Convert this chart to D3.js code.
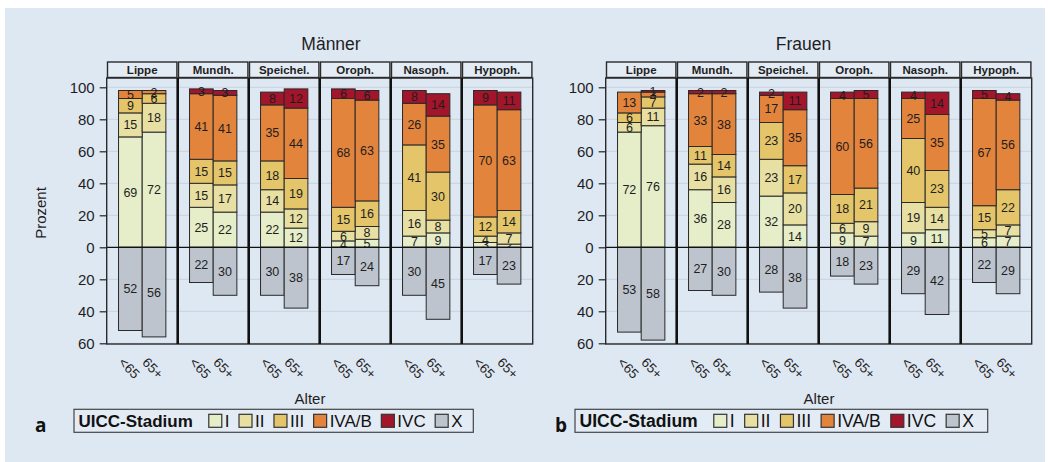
<!DOCTYPE html>
<html>
<head>
<meta charset="utf-8">
<script src="https://cdn.jsdelivr.net/npm/d3@7"></script>
<style>
  body { margin: 0; background: #ffffff; }
  svg { display: block; font-family: "Liberation Sans", Arial, sans-serif; }
</style>
</head>
<body>
<svg id="chart" width="1048" height="462"></svg>
<script>
// Tumour sites (facets), age groups (bars) and UICC stages (stack segments)
const sites = ["Lippe", "Mundh.", "Speichel.", "Oroph.", "Nasoph.", "Hypoph."];
const ages = ["<65", "65+"];
const stages = ["I", "II", "III", "IVA/B", "IVC"];
const stageX = "X";
const tickValues = [-60, -40, -20, 0, 20, 40, 60, 80, 100];

// Männer: percentages per site and age group (<65, 65+ for each site in order)
const maennerI    = [69, 72, 25, 22, 22, 12,  4,  5,  7,  9,  3,  2];
const maennerII   = [15, 18, 15, 17, 14, 12,  6,  8, 16,  8,  4,  7];
const maennerIII  = [ 9,  6, 15, 15, 18, 19, 15, 16, 41, 30, 12, 14];
const maennerIVAB = [ 5,  2, 41, 41, 35, 44, 68, 63, 26, 35, 70, 63];
const maennerIVC  = [ 0,  0,  3,  3,  8, 12,  6,  6,  8, 14,  9, 11];
const maennerX    = [52, 56, 22, 30, 30, 38, 17, 24, 30, 45, 17, 23];

// Frauen
const frauenI    = [72, 76, 36, 28, 32, 14,  9,  7,  9, 11,  6,  7];
const frauenII   = [ 6, 11, 16, 16, 23, 20,  6,  9, 19, 14,  5,  7];
const frauenIII  = [ 6,  7, 11, 14, 23, 17, 18, 21, 40, 23, 15, 22];
const frauenIVAB = [13,  3, 33, 38, 17, 35, 60, 56, 25, 35, 67, 56];
const frauenIVC  = [ 0,  1,  2,  2,  2, 11,  4,  5,  4, 14,  5,  4];
const frauenX    = [53, 58, 27, 30, 28, 38, 18, 23, 29, 42, 22, 29];

// Colours
const stageColors = ["#e5eec8", "#e8e0a3", "#e4c56a", "#e3843c", "#a3152b"];
const colorX = "#bdc4cd";
const bg = "#dee8f3";
const ink = "#1e1e1e";

const svg = d3.select("#chart");

// page background
svg.append("rect").attr("x", 5).attr("y", 8).attr("width", 1040).attr("height", 454).attr("fill", bg);

const layout = {
  plotTop: 78, plotBottom: 344, stripTop: 62, stripH: 15.5,
  facetStep: 71
};

const y = d3.scaleLinear().domain([-60, 100]).range([343.3, 87.3]);

const panels = [
  { title: "Männer", tag: "a", left: 106.7, titleX: 331, alterX: 310, yLabel: true,
    series: [maennerI, maennerII, maennerIII, maennerIVAB, maennerIVC], neg: maennerX,
    legend: { x: 74, y: 409.3, w: 399.3, h: 23, font: 17, gap: 9.5, tagX: 35 } },
  { title: "Frauen", tag: "b", left: 605.7, titleX: 803.5, alterX: 819, yLabel: false,
    series: [frauenI, frauenII, frauenIII, frauenIVAB, frauenIVC], neg: frauenX,
    legend: { x: 575, y: 409.3, w: 412.7, h: 23, font: 17.6, gap: 10, tagX: 555 } }
];

panels.forEach(p => {
  const g = svg.append("g");
  const width = layout.facetStep * sites.length;
  const xSite = d3.scaleBand().domain(sites).range([p.left, p.left + width]);
  const xAge = d3.scaleBand().domain(ages).range([0, xSite.bandwidth()]).paddingInner(0).paddingOuter(0.5);

  // rows for stacking
  const rows = [];
  sites.forEach((s, i) => ages.forEach((a, j) => {
    const k = i * 2 + j;
    const r = { site: s, age: a, X: p.neg[k] };
    stages.forEach((st, si) => r[st] = p.series[si][k]);
    rows.push(r);
  }));
  const stacked = d3.stack().keys(stages)(rows);

  // gridlines
  g.append("g").selectAll("line").data(tickValues.filter(d => d !== 0)).join("line")
    .attr("x1", p.left).attr("x2", p.left + width)
    .attr("y1", d => y(d)).attr("y2", d => y(d))
    .attr("stroke", "#c9d3df").attr("stroke-width", 1);

  const bx = d => xSite(d.data ? d.data.site : d.site) + xAge(d.data ? d.data.age : d.age);

  // positive stacks
  stacked.forEach((layer, li) => {
    const lg = g.append("g");
    const segs = layer.filter(d => d[1] - d[0] > 0);
    lg.selectAll("rect").data(segs).join("rect")
      .attr("x", bx).attr("width", xAge.bandwidth())
      .attr("y", d => y(d[1])).attr("height", d => y(d[0]) - y(d[1]))
      .attr("fill", stageColors[li]).attr("stroke", "#2a2a2a").attr("stroke-width", 1);
    lg.selectAll("text").data(segs).join("text")
      .attr("x", d => bx(d) + xAge.bandwidth() / 2)
      .attr("y", d => y((d[0] + d[1]) / 2))
      .attr("dy", "0.36em").attr("text-anchor", "middle")
      .attr("font-size", 12.5).attr("fill", ink)
      .text(d => d[1] - d[0]);
  });

  // unknown stage (X) below zero
  const ng = g.append("g");
  ng.selectAll("rect").data(rows).join("rect")
    .attr("x", bx).attr("width", xAge.bandwidth())
    .attr("y", y(0)).attr("height", d => y(-d.X) - y(0))
    .attr("fill", colorX).attr("stroke", "#2a2a2a").attr("stroke-width", 1);
  ng.selectAll("text").data(rows).join("text")
    .attr("x", d => bx(d) + xAge.bandwidth() / 2)
    .attr("y", d => y(-d.X / 2))
    .attr("dy", "0.36em").attr("text-anchor", "middle")
    .attr("font-size", 12.5).attr("fill", ink)
    .text(d => d.X);

  // zero line
  g.append("line").attr("x1", p.left).attr("x2", p.left + width)
    .attr("y1", y(0)).attr("y2", y(0)).attr("stroke", "#111").attr("stroke-width", 1.3);

  // facet frames
  g.append("rect").attr("x", p.left).attr("y", layout.plotTop)
    .attr("width", width).attr("height", layout.plotBottom - layout.plotTop)
    .attr("fill", "none").attr("stroke", "#2a2a2a").attr("stroke-width", 1.4);
  g.append("g").selectAll("line").data(sites.slice(1)).join("line")
    .attr("x1", d => xSite(d)).attr("x2", d => xSite(d))
    .attr("y1", layout.plotTop).attr("y2", layout.plotBottom)
    .attr("stroke", "#111").attr("stroke-width", 2.6);

  // strips
  const sg = g.append("g");
  sg.selectAll("rect").data(sites).join("rect")
    .attr("x", d => xSite(d) + 0.8).attr("width", xSite.bandwidth() - 1.6)
    .attr("y", layout.stripTop).attr("height", layout.stripH)
    .attr("fill", "#e3ebf4").attr("stroke", "#2a2a2a").attr("stroke-width", 1.4);
  sg.selectAll("text").data(sites).join("text")
    .attr("x", d => xSite(d) + xSite.bandwidth() / 2)
    .attr("y", layout.stripTop + layout.stripH / 2).attr("dy", "0.36em")
    .attr("text-anchor", "middle").attr("font-size", 11.5).attr("font-weight", "bold")
    .attr("fill", ink).text(d => d);

  // y axis
  const ax = g.append("g").attr("transform", `translate(${p.left},0)`)
    .call(d3.axisLeft(y).tickValues(tickValues).tickFormat(d => Math.abs(d)).tickSize(7).tickPadding(5));
  ax.select(".domain").remove();
  ax.selectAll(".tick line").attr("stroke", "#222").attr("stroke-width", 1.2);
  ax.selectAll(".tick text").attr("font-size", 15).attr("fill", ink)
    .attr("font-family", "Liberation Sans, Arial, sans-serif");

  // x tick labels (age groups)
  const xl = g.append("g");
  xl.selectAll("text").data(rows).join("text")
    .attr("transform", d => `translate(${bx(d) + xAge.bandwidth() / 2 - 1},368) rotate(45)`)
    .attr("text-anchor", "middle").attr("dy", "0.36em")
    .attr("font-size", 13.5).attr("fill", ink).text(d => d.age);

  // titles
  g.append("text").attr("x", p.titleX).attr("y", 50).attr("text-anchor", "middle")
    .attr("font-size", 17.5).attr("fill", ink).text(p.title);
  g.append("text").attr("x", p.alterX).attr("y", 404).attr("text-anchor", "middle")
    .attr("font-size", 15).attr("fill", ink).text("Alter");
  if (p.yLabel) {
    g.append("text").attr("transform", "translate(46,213) rotate(-90)")
      .attr("text-anchor", "middle").attr("font-size", 15).attr("fill", ink).text("Prozent");
  }

  // panel tag
  g.append("text").attr("x", p.legend.tagX).attr("y", 432)
    .attr("font-family", "'Open Sans', 'DejaVu Sans', sans-serif")
    .attr("font-size", 19).attr("font-weight", "bold").attr("fill", "#111").text(p.tag);

  // legend
  const L = p.legend;
  const lg = g.append("g");
  lg.append("rect").attr("x", L.x).attr("y", L.y).attr("width", L.w).attr("height", L.h)
    .attr("fill", "#e3ebf4").attr("stroke", "#444").attr("stroke-width", 1.2);
  const baseY = L.y + L.h / 2;
  const head = lg.append("text").attr("x", L.x + 4.5).attr("y", baseY).attr("dy", "0.36em")
    .attr("font-size", L.font).attr("font-weight", "bold").attr("fill", "#111").text("UICC-Stadium");
  let cx = L.x + 4.5 + head.node().getComputedTextLength() + 16;
  const entries = stages.map((s, i) => ({ label: s, color: stageColors[i] }))
    .concat([{ label: stageX, color: colorX }]);
  entries.forEach(e => {
    lg.append("rect").attr("x", cx).attr("y", baseY - 6.5).attr("width", 13).attr("height", 13)
      .attr("fill", e.color).attr("stroke", "#333").attr("stroke-width", 1.2);
    const t = lg.append("text").attr("x", cx + 16).attr("y", baseY).attr("dy", "0.36em")
      .attr("font-size", L.font).attr("fill", "#111").text(e.label);
    cx += 16 + t.node().getComputedTextLength() + L.gap;
  });
});
</script>
</body>
</html>
